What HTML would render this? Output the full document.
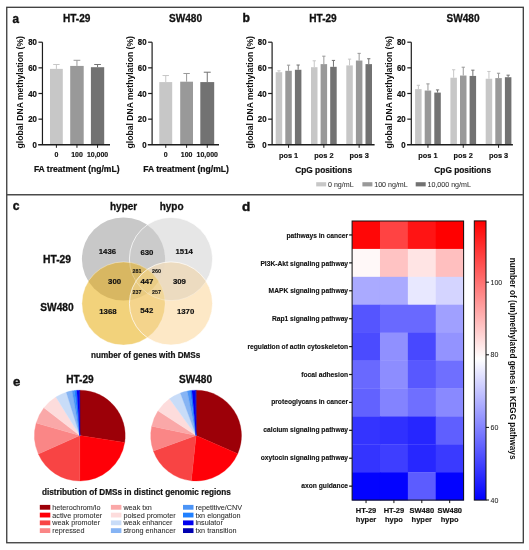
<!DOCTYPE html>
<html><head><meta charset="utf-8"><style>
html,body{margin:0;padding:0;background:#fff;width:529px;height:550px;overflow:hidden}
svg{display:block;filter:blur(0.35px)}
text{font-family:"Liberation Sans",sans-serif}
</style></head><body>
<svg width="529" height="550" viewBox="0 0 529 550">
<rect x="6.75" y="7.3" width="516.55" height="535.45" fill="none" stroke="#3a3a3a" stroke-width="1.3"/>
<line x1="6" y1="194.75" x2="523" y2="194.75" stroke="#4a4a4a" stroke-width="1.4"/>
<text transform="translate(12.6,22.5) scale(0.88,1)" x="0" y="0" font-size="13.3" font-weight="bold" text-anchor="start" fill="#111" stroke="#111" stroke-width="0.428" >a</text>
<text x="76.7" y="22.1" font-size="10.1" font-weight="bold" text-anchor="middle" fill="#111" stroke="#111" stroke-width="0.284" >HT-29</text>
<text x="185.5" y="22.1" font-size="10.1" font-weight="bold" text-anchor="middle" fill="#111" stroke="#111" stroke-width="0.284" >SW480</text>
<rect x="50.0" y="68.876" width="12.799999999999997" height="75.924" fill="#c7c7c7"/>
<line x1="56.4" y1="68.876" x2="56.4" y2="64.51550000000002" stroke="#c7c7c7" stroke-width="1"/>
<line x1="53.2" y1="64.51550000000002" x2="59.599999999999994" y2="64.51550000000002" stroke="#c7c7c7" stroke-width="1"/>
<rect x="70.2" y="65.92625000000001" width="13.5" height="78.87375" fill="#999999"/>
<line x1="76.95" y1="65.92625000000001" x2="76.95" y2="60.28325000000001" stroke="#999999" stroke-width="1"/>
<line x1="73.575" y1="60.28325000000001" x2="80.325" y2="60.28325000000001" stroke="#999999" stroke-width="1"/>
<rect x="90.9" y="67.20875000000001" width="13.299999999999997" height="77.59125" fill="#727272"/>
<line x1="97.55000000000001" y1="67.20875000000001" x2="97.55000000000001" y2="64.51550000000002" stroke="#727272" stroke-width="1"/>
<line x1="94.22500000000001" y1="64.51550000000002" x2="100.87500000000001" y2="64.51550000000002" stroke="#727272" stroke-width="1"/>
<line x1="42.45" y1="42.20000000000002" x2="42.45" y2="144.8" stroke="#1c1c1c" stroke-width="1.2"/>
<line x1="38.150000000000006" y1="144.8" x2="110" y2="144.8" stroke="#1c1c1c" stroke-width="1.4"/>
<line x1="38.45" y1="119.15" x2="42.45" y2="119.15" stroke="#1c1c1c" stroke-width="1.2"/>
<line x1="38.45" y1="93.50000000000001" x2="42.45" y2="93.50000000000001" stroke="#1c1c1c" stroke-width="1.2"/>
<line x1="38.45" y1="67.85000000000001" x2="42.45" y2="67.85000000000001" stroke="#1c1c1c" stroke-width="1.2"/>
<line x1="38.45" y1="42.20000000000002" x2="42.45" y2="42.20000000000002" stroke="#1c1c1c" stroke-width="1.2"/>
<text transform="translate(36.85,147.8) scale(0.92,1)" x="0" y="0" font-size="8.5" font-weight="bold" text-anchor="end" fill="#111" stroke="#111" stroke-width="0.212" >0</text>
<text transform="translate(36.85,122.15) scale(0.92,1)" x="0" y="0" font-size="8.5" font-weight="bold" text-anchor="end" fill="#111" stroke="#111" stroke-width="0.212" >20</text>
<text transform="translate(36.85,96.50000000000001) scale(0.92,1)" x="0" y="0" font-size="8.5" font-weight="bold" text-anchor="end" fill="#111" stroke="#111" stroke-width="0.212" >40</text>
<text transform="translate(36.85,70.85000000000001) scale(0.92,1)" x="0" y="0" font-size="8.5" font-weight="bold" text-anchor="end" fill="#111" stroke="#111" stroke-width="0.212" >60</text>
<text transform="translate(36.85,45.20000000000002) scale(0.92,1)" x="0" y="0" font-size="8.5" font-weight="bold" text-anchor="end" fill="#111" stroke="#111" stroke-width="0.212" >80</text>
<text transform="translate(23.450000000000003,92.30000000000001) rotate(-90)" x="0" y="0" font-size="8.6" font-weight="bold" text-anchor="middle" fill="#111">global DNA methylation (%)</text>
<line x1="56.4" y1="144.8" x2="56.4" y2="147.8" stroke="#1c1c1c" stroke-width="1"/>
<text transform="translate(56.4,157.2) scale(0.93,1)" x="0" y="0" font-size="7.5" font-weight="bold" text-anchor="middle" fill="#111" stroke="#111" stroke-width="0.167" >0</text>
<line x1="76.95" y1="144.8" x2="76.95" y2="147.8" stroke="#1c1c1c" stroke-width="1"/>
<text transform="translate(76.95,157.2) scale(0.93,1)" x="0" y="0" font-size="7.5" font-weight="bold" text-anchor="middle" fill="#111" stroke="#111" stroke-width="0.167" >100</text>
<line x1="97.55" y1="144.8" x2="97.55" y2="147.8" stroke="#1c1c1c" stroke-width="1"/>
<text transform="translate(97.55,157.2) scale(0.93,1)" x="0" y="0" font-size="7.5" font-weight="bold" text-anchor="middle" fill="#111" stroke="#111" stroke-width="0.167" >10,000</text>
<text x="76.7" y="172" font-size="8.56" font-weight="bold" text-anchor="middle" fill="#111" stroke="#111" stroke-width="0.215" >FA treatment (ng/mL)</text>
<rect x="159.3" y="82.08575000000002" width="12.899999999999977" height="62.71424999999999" fill="#c7c7c7"/>
<line x1="165.75" y1="82.08575000000002" x2="165.75" y2="75.54500000000002" stroke="#c7c7c7" stroke-width="1"/>
<line x1="162.525" y1="75.54500000000002" x2="168.975" y2="75.54500000000002" stroke="#c7c7c7" stroke-width="1"/>
<rect x="180.2" y="81.70100000000001" width="12.800000000000011" height="63.099000000000004" fill="#999999"/>
<line x1="186.6" y1="81.70100000000001" x2="186.6" y2="73.49300000000001" stroke="#999999" stroke-width="1"/>
<line x1="183.39999999999998" y1="73.49300000000001" x2="189.8" y2="73.49300000000001" stroke="#999999" stroke-width="1"/>
<rect x="200.3" y="82.08575000000002" width="13.899999999999977" height="62.71424999999999" fill="#727272"/>
<line x1="207.25" y1="82.08575000000002" x2="207.25" y2="72.21050000000001" stroke="#727272" stroke-width="1"/>
<line x1="203.775" y1="72.21050000000001" x2="210.725" y2="72.21050000000001" stroke="#727272" stroke-width="1"/>
<line x1="152.1" y1="42.20000000000002" x2="152.1" y2="144.8" stroke="#1c1c1c" stroke-width="1.2"/>
<line x1="147.79999999999998" y1="144.8" x2="219" y2="144.8" stroke="#1c1c1c" stroke-width="1.4"/>
<line x1="148.1" y1="119.15" x2="152.1" y2="119.15" stroke="#1c1c1c" stroke-width="1.2"/>
<line x1="148.1" y1="93.50000000000001" x2="152.1" y2="93.50000000000001" stroke="#1c1c1c" stroke-width="1.2"/>
<line x1="148.1" y1="67.85000000000001" x2="152.1" y2="67.85000000000001" stroke="#1c1c1c" stroke-width="1.2"/>
<line x1="148.1" y1="42.20000000000002" x2="152.1" y2="42.20000000000002" stroke="#1c1c1c" stroke-width="1.2"/>
<text transform="translate(146.5,147.8) scale(0.92,1)" x="0" y="0" font-size="8.5" font-weight="bold" text-anchor="end" fill="#111" stroke="#111" stroke-width="0.212" >0</text>
<text transform="translate(146.5,122.15) scale(0.92,1)" x="0" y="0" font-size="8.5" font-weight="bold" text-anchor="end" fill="#111" stroke="#111" stroke-width="0.212" >20</text>
<text transform="translate(146.5,96.50000000000001) scale(0.92,1)" x="0" y="0" font-size="8.5" font-weight="bold" text-anchor="end" fill="#111" stroke="#111" stroke-width="0.212" >40</text>
<text transform="translate(146.5,70.85000000000001) scale(0.92,1)" x="0" y="0" font-size="8.5" font-weight="bold" text-anchor="end" fill="#111" stroke="#111" stroke-width="0.212" >60</text>
<text transform="translate(146.5,45.20000000000002) scale(0.92,1)" x="0" y="0" font-size="8.5" font-weight="bold" text-anchor="end" fill="#111" stroke="#111" stroke-width="0.212" >80</text>
<text transform="translate(133.1,92.30000000000001) rotate(-90)" x="0" y="0" font-size="8.6" font-weight="bold" text-anchor="middle" fill="#111">global DNA methylation (%)</text>
<line x1="165.75" y1="144.8" x2="165.75" y2="147.8" stroke="#1c1c1c" stroke-width="1"/>
<text transform="translate(165.75,157.2) scale(0.93,1)" x="0" y="0" font-size="7.5" font-weight="bold" text-anchor="middle" fill="#111" stroke="#111" stroke-width="0.167" >0</text>
<line x1="186.6" y1="144.8" x2="186.6" y2="147.8" stroke="#1c1c1c" stroke-width="1"/>
<text transform="translate(186.6,157.2) scale(0.93,1)" x="0" y="0" font-size="7.5" font-weight="bold" text-anchor="middle" fill="#111" stroke="#111" stroke-width="0.167" >100</text>
<line x1="207.25" y1="144.8" x2="207.25" y2="147.8" stroke="#1c1c1c" stroke-width="1"/>
<text transform="translate(207.25,157.2) scale(0.93,1)" x="0" y="0" font-size="7.5" font-weight="bold" text-anchor="middle" fill="#111" stroke="#111" stroke-width="0.167" >10,000</text>
<text x="186" y="172" font-size="8.56" font-weight="bold" text-anchor="middle" fill="#111" stroke="#111" stroke-width="0.215" >FA treatment (ng/mL)</text>
<text transform="translate(242.4,22.0) scale(0.92,1)" x="0" y="0" font-size="13.2" font-weight="bold" text-anchor="start" fill="#111" stroke="#111" stroke-width="0.424" >b</text>
<text x="323" y="22.1" font-size="10.1" font-weight="bold" text-anchor="middle" fill="#111" stroke="#111" stroke-width="0.284" >HT-29</text>
<text x="463" y="22.1" font-size="10.1" font-weight="bold" text-anchor="middle" fill="#111" stroke="#111" stroke-width="0.284" >SW480</text>
<rect x="275.70000000000005" y="72.21050000000001" width="6.5" height="72.5895" fill="#c7c7c7"/>
<line x1="278.95000000000005" y1="72.21050000000001" x2="278.95000000000005" y2="70.79975" stroke="#c7c7c7" stroke-width="1"/>
<line x1="277.32500000000005" y1="70.79975" x2="280.57500000000005" y2="70.79975" stroke="#c7c7c7" stroke-width="1"/>
<rect x="285.30000000000007" y="70.79975" width="6.5" height="74.00025000000001" fill="#999999"/>
<line x1="288.55000000000007" y1="70.79975" x2="288.55000000000007" y2="65.15675000000002" stroke="#999999" stroke-width="1"/>
<line x1="286.92500000000007" y1="65.15675000000002" x2="290.17500000000007" y2="65.15675000000002" stroke="#999999" stroke-width="1"/>
<rect x="294.90000000000003" y="69.77375" width="6.5" height="75.02625" fill="#727272"/>
<line x1="298.15000000000003" y1="69.77375" x2="298.15000000000003" y2="65.02850000000001" stroke="#727272" stroke-width="1"/>
<line x1="296.52500000000003" y1="65.02850000000001" x2="299.77500000000003" y2="65.02850000000001" stroke="#727272" stroke-width="1"/>
<rect x="311.0" y="67.20875000000001" width="6.5" height="77.59125" fill="#c7c7c7"/>
<line x1="314.25" y1="67.20875000000001" x2="314.25" y2="60.796250000000015" stroke="#c7c7c7" stroke-width="1"/>
<line x1="312.625" y1="60.796250000000015" x2="315.875" y2="60.796250000000015" stroke="#c7c7c7" stroke-width="1"/>
<rect x="320.6" y="64.13075000000002" width="6.5" height="80.66924999999999" fill="#999999"/>
<line x1="323.85" y1="64.13075000000002" x2="323.85" y2="56.179250000000025" stroke="#999999" stroke-width="1"/>
<line x1="322.225" y1="56.179250000000025" x2="325.475" y2="56.179250000000025" stroke="#999999" stroke-width="1"/>
<rect x="330.2" y="66.82400000000001" width="6.5" height="77.976" fill="#727272"/>
<line x1="333.45" y1="66.82400000000001" x2="333.45" y2="60.41150000000002" stroke="#727272" stroke-width="1"/>
<line x1="331.825" y1="60.41150000000002" x2="335.075" y2="60.41150000000002" stroke="#727272" stroke-width="1"/>
<rect x="346.3" y="65.41325000000002" width="6.5" height="79.38674999999999" fill="#c7c7c7"/>
<line x1="349.55" y1="65.41325000000002" x2="349.55" y2="59.12900000000002" stroke="#c7c7c7" stroke-width="1"/>
<line x1="347.925" y1="59.12900000000002" x2="351.175" y2="59.12900000000002" stroke="#c7c7c7" stroke-width="1"/>
<rect x="355.90000000000003" y="60.53975000000001" width="6.5" height="84.26025" fill="#999999"/>
<line x1="359.15000000000003" y1="60.53975000000001" x2="359.15000000000003" y2="53.35775000000001" stroke="#999999" stroke-width="1"/>
<line x1="357.52500000000003" y1="53.35775000000001" x2="360.77500000000003" y2="53.35775000000001" stroke="#999999" stroke-width="1"/>
<rect x="365.5" y="64.13075000000002" width="6.5" height="80.66924999999999" fill="#727272"/>
<line x1="368.75" y1="64.13075000000002" x2="368.75" y2="58.74425000000002" stroke="#727272" stroke-width="1"/>
<line x1="367.125" y1="58.74425000000002" x2="370.375" y2="58.74425000000002" stroke="#727272" stroke-width="1"/>
<line x1="272.1" y1="42.20000000000002" x2="272.1" y2="144.8" stroke="#1c1c1c" stroke-width="1.2"/>
<line x1="267.8" y1="144.8" x2="374.6" y2="144.8" stroke="#1c1c1c" stroke-width="1.4"/>
<line x1="268.1" y1="119.15" x2="272.1" y2="119.15" stroke="#1c1c1c" stroke-width="1.2"/>
<line x1="268.1" y1="93.50000000000001" x2="272.1" y2="93.50000000000001" stroke="#1c1c1c" stroke-width="1.2"/>
<line x1="268.1" y1="67.85000000000001" x2="272.1" y2="67.85000000000001" stroke="#1c1c1c" stroke-width="1.2"/>
<line x1="268.1" y1="42.20000000000002" x2="272.1" y2="42.20000000000002" stroke="#1c1c1c" stroke-width="1.2"/>
<text transform="translate(266.5,147.8) scale(0.92,1)" x="0" y="0" font-size="8.5" font-weight="bold" text-anchor="end" fill="#111" stroke="#111" stroke-width="0.212" >0</text>
<text transform="translate(266.5,122.15) scale(0.92,1)" x="0" y="0" font-size="8.5" font-weight="bold" text-anchor="end" fill="#111" stroke="#111" stroke-width="0.212" >20</text>
<text transform="translate(266.5,96.50000000000001) scale(0.92,1)" x="0" y="0" font-size="8.5" font-weight="bold" text-anchor="end" fill="#111" stroke="#111" stroke-width="0.212" >40</text>
<text transform="translate(266.5,70.85000000000001) scale(0.92,1)" x="0" y="0" font-size="8.5" font-weight="bold" text-anchor="end" fill="#111" stroke="#111" stroke-width="0.212" >60</text>
<text transform="translate(266.5,45.20000000000002) scale(0.92,1)" x="0" y="0" font-size="8.5" font-weight="bold" text-anchor="end" fill="#111" stroke="#111" stroke-width="0.212" >80</text>
<text transform="translate(253.10000000000002,92.30000000000001) rotate(-90)" x="0" y="0" font-size="8.6" font-weight="bold" text-anchor="middle" fill="#111">global DNA methylation (%)</text>
<line x1="288.55000000000007" y1="144.8" x2="288.55000000000007" y2="147.8" stroke="#1c1c1c" stroke-width="1"/>
<text x="288.55000000000007" y="157.7" font-size="7.4" font-weight="bold" text-anchor="middle" fill="#111" stroke="#111" stroke-width="0.163" >pos 1</text>
<line x1="323.85" y1="144.8" x2="323.85" y2="147.8" stroke="#1c1c1c" stroke-width="1"/>
<text x="323.85" y="157.7" font-size="7.4" font-weight="bold" text-anchor="middle" fill="#111" stroke="#111" stroke-width="0.163" >pos 2</text>
<line x1="359.15000000000003" y1="144.8" x2="359.15000000000003" y2="147.8" stroke="#1c1c1c" stroke-width="1"/>
<text x="359.15000000000003" y="157.7" font-size="7.4" font-weight="bold" text-anchor="middle" fill="#111" stroke="#111" stroke-width="0.163" >pos 3</text>
<text x="323.65" y="173.3" font-size="8.3" font-weight="bold" text-anchor="middle" fill="#111" stroke="#111" stroke-width="0.203" >CpG positions</text>
<rect x="415.1" y="89.13950000000001" width="6.5" height="55.6605" fill="#c7c7c7"/>
<line x1="418.35" y1="89.13950000000001" x2="418.35" y2="85.29200000000002" stroke="#c7c7c7" stroke-width="1"/>
<line x1="416.725" y1="85.29200000000002" x2="419.975" y2="85.29200000000002" stroke="#c7c7c7" stroke-width="1"/>
<rect x="424.70000000000005" y="90.55025000000002" width="6.5" height="54.24974999999999" fill="#999999"/>
<line x1="427.95000000000005" y1="90.55025000000002" x2="427.95000000000005" y2="83.88125000000002" stroke="#999999" stroke-width="1"/>
<line x1="426.32500000000005" y1="83.88125000000002" x2="429.57500000000005" y2="83.88125000000002" stroke="#999999" stroke-width="1"/>
<rect x="434.3" y="92.60225000000001" width="6.5" height="52.19775" fill="#727272"/>
<line x1="437.55" y1="92.60225000000001" x2="437.55" y2="89.90900000000002" stroke="#727272" stroke-width="1"/>
<line x1="435.925" y1="89.90900000000002" x2="439.175" y2="89.90900000000002" stroke="#727272" stroke-width="1"/>
<rect x="450.40000000000003" y="77.72525000000002" width="6.5" height="67.07475" fill="#c7c7c7"/>
<line x1="453.65000000000003" y1="77.72525000000002" x2="453.65000000000003" y2="69.77375" stroke="#c7c7c7" stroke-width="1"/>
<line x1="452.02500000000003" y1="69.77375" x2="455.27500000000003" y2="69.77375" stroke="#c7c7c7" stroke-width="1"/>
<rect x="460.00000000000006" y="75.54500000000002" width="6.5" height="69.255" fill="#999999"/>
<line x1="463.25000000000006" y1="75.54500000000002" x2="463.25000000000006" y2="67.20875000000001" stroke="#999999" stroke-width="1"/>
<line x1="461.62500000000006" y1="67.20875000000001" x2="464.87500000000006" y2="67.20875000000001" stroke="#999999" stroke-width="1"/>
<rect x="469.6" y="75.92975000000001" width="6.5" height="68.87025" fill="#727272"/>
<line x1="472.85" y1="75.92975000000001" x2="472.85" y2="70.1585" stroke="#727272" stroke-width="1"/>
<line x1="471.225" y1="70.1585" x2="474.475" y2="70.1585" stroke="#727272" stroke-width="1"/>
<rect x="485.7" y="78.75125000000001" width="6.5" height="66.04875" fill="#c7c7c7"/>
<line x1="488.95" y1="78.75125000000001" x2="488.95" y2="71.441" stroke="#c7c7c7" stroke-width="1"/>
<line x1="487.325" y1="71.441" x2="490.575" y2="71.441" stroke="#c7c7c7" stroke-width="1"/>
<rect x="495.3" y="78.11000000000001" width="6.5" height="66.69" fill="#999999"/>
<line x1="498.55" y1="78.11000000000001" x2="498.55" y2="73.23650000000002" stroke="#999999" stroke-width="1"/>
<line x1="496.925" y1="73.23650000000002" x2="500.175" y2="73.23650000000002" stroke="#999999" stroke-width="1"/>
<rect x="504.9" y="77.21225000000001" width="6.5" height="67.58775" fill="#727272"/>
<line x1="508.15" y1="77.21225000000001" x2="508.15" y2="75.16025000000002" stroke="#727272" stroke-width="1"/>
<line x1="506.525" y1="75.16025000000002" x2="509.775" y2="75.16025000000002" stroke="#727272" stroke-width="1"/>
<line x1="411.3" y1="42.20000000000002" x2="411.3" y2="144.8" stroke="#1c1c1c" stroke-width="1.2"/>
<line x1="407.0" y1="144.8" x2="512.9" y2="144.8" stroke="#1c1c1c" stroke-width="1.4"/>
<line x1="407.3" y1="119.15" x2="411.3" y2="119.15" stroke="#1c1c1c" stroke-width="1.2"/>
<line x1="407.3" y1="93.50000000000001" x2="411.3" y2="93.50000000000001" stroke="#1c1c1c" stroke-width="1.2"/>
<line x1="407.3" y1="67.85000000000001" x2="411.3" y2="67.85000000000001" stroke="#1c1c1c" stroke-width="1.2"/>
<line x1="407.3" y1="42.20000000000002" x2="411.3" y2="42.20000000000002" stroke="#1c1c1c" stroke-width="1.2"/>
<text transform="translate(405.7,147.8) scale(0.92,1)" x="0" y="0" font-size="8.5" font-weight="bold" text-anchor="end" fill="#111" stroke="#111" stroke-width="0.212" >0</text>
<text transform="translate(405.7,122.15) scale(0.92,1)" x="0" y="0" font-size="8.5" font-weight="bold" text-anchor="end" fill="#111" stroke="#111" stroke-width="0.212" >20</text>
<text transform="translate(405.7,96.50000000000001) scale(0.92,1)" x="0" y="0" font-size="8.5" font-weight="bold" text-anchor="end" fill="#111" stroke="#111" stroke-width="0.212" >40</text>
<text transform="translate(405.7,70.85000000000001) scale(0.92,1)" x="0" y="0" font-size="8.5" font-weight="bold" text-anchor="end" fill="#111" stroke="#111" stroke-width="0.212" >60</text>
<text transform="translate(405.7,45.20000000000002) scale(0.92,1)" x="0" y="0" font-size="8.5" font-weight="bold" text-anchor="end" fill="#111" stroke="#111" stroke-width="0.212" >80</text>
<text transform="translate(392.3,92.30000000000001) rotate(-90)" x="0" y="0" font-size="8.6" font-weight="bold" text-anchor="middle" fill="#111">global DNA methylation (%)</text>
<line x1="427.95000000000005" y1="144.8" x2="427.95000000000005" y2="147.8" stroke="#1c1c1c" stroke-width="1"/>
<text x="427.95000000000005" y="157.7" font-size="7.4" font-weight="bold" text-anchor="middle" fill="#111" stroke="#111" stroke-width="0.163" >pos 1</text>
<line x1="463.25000000000006" y1="144.8" x2="463.25000000000006" y2="147.8" stroke="#1c1c1c" stroke-width="1"/>
<text x="463.25000000000006" y="157.7" font-size="7.4" font-weight="bold" text-anchor="middle" fill="#111" stroke="#111" stroke-width="0.163" >pos 2</text>
<line x1="498.55" y1="144.8" x2="498.55" y2="147.8" stroke="#1c1c1c" stroke-width="1"/>
<text x="498.55" y="157.7" font-size="7.4" font-weight="bold" text-anchor="middle" fill="#111" stroke="#111" stroke-width="0.163" >pos 3</text>
<text x="462.7" y="173.3" font-size="8.3" font-weight="bold" text-anchor="middle" fill="#111" stroke="#111" stroke-width="0.203" >CpG positions</text>
<rect x="316.2" y="182.2" width="10" height="4.2" fill="#c7c7c7"/>
<text x="328.0" y="187.1" font-size="7.1" font-weight="normal" text-anchor="start" fill="#333" stroke="#333" stroke-width="0.060" >0 ng/mL</text>
<rect x="362.4" y="182.2" width="10" height="4.2" fill="#999999"/>
<text x="374.2" y="187.1" font-size="7.1" font-weight="normal" text-anchor="start" fill="#333" stroke="#333" stroke-width="0.060" >100 ng/mL</text>
<rect x="415.7" y="182.2" width="10" height="4.2" fill="#727272"/>
<text x="427.5" y="187.1" font-size="7.1" font-weight="normal" text-anchor="start" fill="#333" stroke="#333" stroke-width="0.060" >10,000 ng/mL</text>
<text x="12.8" y="210.1" font-size="12.2" font-weight="bold" text-anchor="start" fill="#111" stroke="#111" stroke-width="0.379" >c</text>
<text x="123.6" y="210.0" font-size="10.0" font-weight="bold" text-anchor="middle" fill="#111" stroke="#111" stroke-width="0.280" >hyper</text>
<text x="171.6" y="210.0" font-size="10.0" font-weight="bold" text-anchor="middle" fill="#111" stroke="#111" stroke-width="0.280" >hypo</text>
<text x="57" y="263.0" font-size="10.3" font-weight="bold" text-anchor="middle" fill="#111" stroke="#111" stroke-width="0.293" >HT-29</text>
<text x="57" y="310.6" font-size="10.2" font-weight="bold" text-anchor="middle" fill="#111" stroke="#111" stroke-width="0.289" >SW480</text>
<defs><clipPath id="cTL"><circle cx="123.5" cy="259" r="41.6"/></clipPath><clipPath id="cTR"><circle cx="171" cy="259" r="41.6"/></clipPath><clipPath id="cBL"><circle cx="123.5" cy="303.5" r="41.6"/></clipPath><clipPath id="cBR"><circle cx="171" cy="303.5" r="41.6"/></clipPath></defs>
<circle cx="123.5" cy="259" r="41.6" fill="#c8c8c8"/>
<circle cx="171" cy="259" r="41.6" fill="#e6e6e6"/>
<circle cx="123.5" cy="303.5" r="41.6" fill="#f2d27b"/>
<circle cx="171" cy="303.5" r="41.6" fill="#fde8c6"/>
<g clip-path="url(#cTL)"><circle cx="171" cy="259" r="41.6" fill="#cbcbcb"/></g>
<g clip-path="url(#cTL)"><circle cx="123.5" cy="303.5" r="41.6" fill="#d8b762"/></g>
<g clip-path="url(#cTR)"><circle cx="171" cy="303.5" r="41.6" fill="#ecdbc0"/></g>
<g clip-path="url(#cBL)"><circle cx="171" cy="303.5" r="41.6" fill="#f4d48c"/></g>
<g clip-path="url(#cTL)"><g clip-path="url(#cTR)"><circle cx="123.5" cy="303.5" r="41.6" fill="#dabb6a"/></g></g>
<g clip-path="url(#cTL)"><g clip-path="url(#cTR)"><circle cx="171" cy="303.5" r="41.6" fill="#e9d9c0"/></g></g>
<g clip-path="url(#cTL)"><g clip-path="url(#cBL)"><circle cx="171" cy="303.5" r="41.6" fill="#e8ca80"/></g></g>
<g clip-path="url(#cTR)"><g clip-path="url(#cBL)"><circle cx="171" cy="303.5" r="41.6" fill="#f0d69a"/></g></g>
<g clip-path="url(#cTL)"><g clip-path="url(#cTR)"><g clip-path="url(#cBL)"><circle cx="171" cy="303.5" r="41.6" fill="#eacd85"/></g></g></g>
<defs><mask id="mOutB"><rect x="0" y="0" width="529" height="550" fill="#fff"/><circle cx="123.5" cy="303.5" r="41.6" fill="#000"/><circle cx="171" cy="303.5" r="41.6" fill="#000"/></mask><mask id="mInB"><circle cx="123.5" cy="303.5" r="41.6" fill="#fff"/><circle cx="171" cy="303.5" r="41.6" fill="#fff"/></mask><mask id="mOutBR"><rect x="0" y="0" width="529" height="550" fill="#fff"/><circle cx="171" cy="303.5" r="41.6" fill="#000"/></mask><mask id="mInBR"><circle cx="171" cy="303.5" r="41.6" fill="#fff"/></mask></defs>
<g mask="url(#mOutB)"><circle cx="171" cy="259" r="41.6" fill="none" stroke="#fff" stroke-opacity="0.75" stroke-width="0.9"/></g>
<g mask="url(#mInB)"><circle cx="171" cy="259" r="41.6" fill="none" stroke="#fff" stroke-opacity="0.3" stroke-width="0.9"/></g>
<g mask="url(#mOutBR)"><circle cx="123.5" cy="303.5" r="41.6" fill="none" stroke="#fff" stroke-opacity="0.4" stroke-width="0.9"/></g>
<g mask="url(#mInBR)"><circle cx="123.5" cy="303.5" r="41.6" fill="none" stroke="#fff" stroke-opacity="0.2" stroke-width="0.9"/></g>
<g><circle cx="171" cy="303.5" r="41.6" fill="none" stroke="#fff" stroke-opacity="0.75" stroke-width="0.9"/></g>
<text x="107.4" y="253.9" font-size="7.8" font-weight="bold" text-anchor="middle" fill="#111" stroke="#111" stroke-width="0.181" >1436</text>
<text x="146.9" y="255.0" font-size="7.8" font-weight="bold" text-anchor="middle" fill="#111" stroke="#111" stroke-width="0.181" >630</text>
<text x="184.2" y="253.9" font-size="7.8" font-weight="bold" text-anchor="middle" fill="#111" stroke="#111" stroke-width="0.181" >1514</text>
<text x="114.6" y="284.0" font-size="7.8" font-weight="bold" text-anchor="middle" fill="#111" stroke="#111" stroke-width="0.181" >300</text>
<text x="146.9" y="284.0" font-size="7.8" font-weight="bold" text-anchor="middle" fill="#111" stroke="#111" stroke-width="0.181" >447</text>
<text x="179.4" y="284.0" font-size="7.8" font-weight="bold" text-anchor="middle" fill="#111" stroke="#111" stroke-width="0.181" >309</text>
<text x="107.9" y="314.40000000000003" font-size="7.8" font-weight="bold" text-anchor="middle" fill="#111" stroke="#111" stroke-width="0.181" >1368</text>
<text x="146.8" y="313.2" font-size="7.8" font-weight="bold" text-anchor="middle" fill="#111" stroke="#111" stroke-width="0.181" >542</text>
<text x="185.6" y="314.40000000000003" font-size="7.8" font-weight="bold" text-anchor="middle" fill="#111" stroke="#111" stroke-width="0.181" >1370</text>
<text x="136.9" y="273.15" font-size="5.4" font-weight="bold" text-anchor="middle" fill="#111" stroke="#111" stroke-width="0.073" >281</text>
<text x="156.6" y="273.15" font-size="5.4" font-weight="bold" text-anchor="middle" fill="#111" stroke="#111" stroke-width="0.073" >260</text>
<text x="136.9" y="294.05" font-size="5.4" font-weight="bold" text-anchor="middle" fill="#111" stroke="#111" stroke-width="0.073" >237</text>
<text x="156.6" y="294.05" font-size="5.4" font-weight="bold" text-anchor="middle" fill="#111" stroke="#111" stroke-width="0.073" >257</text>
<text x="145.7" y="358.0" font-size="8.16" font-weight="bold" text-anchor="middle" fill="#111" stroke="#111" stroke-width="0.197" >number of genes with DMSs</text>
<text x="242.1" y="210.6" font-size="13.5" font-weight="bold" text-anchor="start" fill="#111" stroke="#111" stroke-width="0.437" >d</text>
<rect x="352.1" y="221.0" width="28.18" height="28.21" fill="#ff0707"/>
<rect x="379.98" y="221.0" width="28.18" height="28.21" fill="#ff4343"/>
<rect x="407.86" y="221.0" width="28.18" height="28.21" fill="#ff1414"/>
<rect x="435.74" y="221.0" width="28.18" height="28.21" fill="#ff0000"/>
<rect x="352.1" y="248.91" width="28.18" height="28.21" fill="#fff8f8"/>
<rect x="379.98" y="248.91" width="28.18" height="28.21" fill="#ffc3c3"/>
<rect x="407.86" y="248.91" width="28.18" height="28.21" fill="#ffe4e4"/>
<rect x="435.74" y="248.91" width="28.18" height="28.21" fill="#ffbfbf"/>
<rect x="352.1" y="276.82" width="28.18" height="28.21" fill="#aaaaff"/>
<rect x="379.98" y="276.82" width="28.18" height="28.21" fill="#aaaaff"/>
<rect x="407.86" y="276.82" width="28.18" height="28.21" fill="#e8e8ff"/>
<rect x="435.74" y="276.82" width="28.18" height="28.21" fill="#d4d4ff"/>
<rect x="352.1" y="304.73" width="28.18" height="28.21" fill="#5555ff"/>
<rect x="379.98" y="304.73" width="28.18" height="28.21" fill="#6969ff"/>
<rect x="407.86" y="304.73" width="28.18" height="28.21" fill="#6969ff"/>
<rect x="435.74" y="304.73" width="28.18" height="28.21" fill="#a0a0ff"/>
<rect x="352.1" y="332.64" width="28.18" height="28.21" fill="#4b4bff"/>
<rect x="379.98" y="332.64" width="28.18" height="28.21" fill="#9090ff"/>
<rect x="407.86" y="332.64" width="28.18" height="28.21" fill="#4848ff"/>
<rect x="435.74" y="332.64" width="28.18" height="28.21" fill="#9393ff"/>
<rect x="352.1" y="360.55" width="28.18" height="28.21" fill="#6969ff"/>
<rect x="379.98" y="360.55" width="28.18" height="28.21" fill="#8d8dff"/>
<rect x="407.86" y="360.55" width="28.18" height="28.21" fill="#5858ff"/>
<rect x="435.74" y="360.55" width="28.18" height="28.21" fill="#6f6fff"/>
<rect x="352.1" y="388.46000000000004" width="28.18" height="28.21" fill="#6262ff"/>
<rect x="379.98" y="388.46000000000004" width="28.18" height="28.21" fill="#8383ff"/>
<rect x="407.86" y="388.46000000000004" width="28.18" height="28.21" fill="#6f6fff"/>
<rect x="435.74" y="388.46000000000004" width="28.18" height="28.21" fill="#8989ff"/>
<rect x="352.1" y="416.37" width="28.18" height="28.21" fill="#3434ff"/>
<rect x="379.98" y="416.37" width="28.18" height="28.21" fill="#3030ff"/>
<rect x="407.86" y="416.37" width="28.18" height="28.21" fill="#2626ff"/>
<rect x="435.74" y="416.37" width="28.18" height="28.21" fill="#5f5fff"/>
<rect x="352.1" y="444.28" width="28.18" height="28.21" fill="#3434ff"/>
<rect x="379.98" y="444.28" width="28.18" height="28.21" fill="#3e3eff"/>
<rect x="407.86" y="444.28" width="28.18" height="28.21" fill="#2727ff"/>
<rect x="435.74" y="444.28" width="28.18" height="28.21" fill="#3a3aff"/>
<rect x="352.1" y="472.19" width="28.18" height="28.21" fill="#0303ff"/>
<rect x="379.98" y="472.19" width="28.18" height="28.21" fill="#0303ff"/>
<rect x="407.86" y="472.19" width="28.18" height="28.21" fill="#5c5cff"/>
<rect x="435.74" y="472.19" width="28.18" height="28.21" fill="#0303ff"/>
<rect x="352.1" y="221" width="111.52" height="279.1" fill="none" stroke="#111" stroke-width="1"/>
<line x1="349.1" y1="234.955" x2="352.1" y2="234.955" stroke="#111" stroke-width="1.2"/>
<text x="348.1" y="237.96" font-size="6.7" font-weight="bold" text-anchor="end" fill="#111" stroke="#111" stroke-width="0.131" >pathways in cancer</text>
<line x1="349.1" y1="262.865" x2="352.1" y2="262.865" stroke="#111" stroke-width="1.2"/>
<text x="348.1" y="265.7" font-size="6.7" font-weight="bold" text-anchor="end" fill="#111" stroke="#111" stroke-width="0.131" >PI3K-Akt signaling pathway</text>
<line x1="349.1" y1="290.775" x2="352.1" y2="290.775" stroke="#111" stroke-width="1.2"/>
<text x="348.1" y="293.44" font-size="6.7" font-weight="bold" text-anchor="end" fill="#111" stroke="#111" stroke-width="0.131" >MAPK signaling pathway</text>
<line x1="349.1" y1="318.685" x2="352.1" y2="318.685" stroke="#111" stroke-width="1.2"/>
<text x="348.1" y="321.18" font-size="6.7" font-weight="bold" text-anchor="end" fill="#111" stroke="#111" stroke-width="0.131" >Rap1 signaling pathway</text>
<line x1="349.1" y1="346.595" x2="352.1" y2="346.595" stroke="#111" stroke-width="1.2"/>
<text x="348.1" y="348.92" font-size="6.7" font-weight="bold" text-anchor="end" fill="#111" stroke="#111" stroke-width="0.131" >regulation of actin cytoskeleton</text>
<line x1="349.1" y1="374.505" x2="352.1" y2="374.505" stroke="#111" stroke-width="1.2"/>
<text x="348.1" y="376.65999999999997" font-size="6.7" font-weight="bold" text-anchor="end" fill="#111" stroke="#111" stroke-width="0.131" >focal adhesion</text>
<line x1="349.1" y1="402.41499999999996" x2="352.1" y2="402.41499999999996" stroke="#111" stroke-width="1.2"/>
<text x="348.1" y="404.4" font-size="6.7" font-weight="bold" text-anchor="end" fill="#111" stroke="#111" stroke-width="0.131" >proteoglycans in cancer</text>
<line x1="349.1" y1="430.325" x2="352.1" y2="430.325" stroke="#111" stroke-width="1.2"/>
<text x="348.1" y="432.14" font-size="6.7" font-weight="bold" text-anchor="end" fill="#111" stroke="#111" stroke-width="0.131" >calcium signaling pathway</text>
<line x1="349.1" y1="458.235" x2="352.1" y2="458.235" stroke="#111" stroke-width="1.2"/>
<text x="348.1" y="459.88" font-size="6.7" font-weight="bold" text-anchor="end" fill="#111" stroke="#111" stroke-width="0.131" >oxytocin signaling pathway</text>
<line x1="349.1" y1="486.145" x2="352.1" y2="486.145" stroke="#111" stroke-width="1.2"/>
<text x="348.1" y="487.62" font-size="6.7" font-weight="bold" text-anchor="end" fill="#111" stroke="#111" stroke-width="0.131" >axon guidance</text>
<line x1="366.04" y1="500.1" x2="366.04" y2="503.1" stroke="#111" stroke-width="1"/>
<text x="366.04" y="512.8" font-size="7.5" font-weight="bold" text-anchor="middle" fill="#111" stroke="#111" stroke-width="0.167" >HT-29</text>
<text x="366.04" y="521.6" font-size="7.5" font-weight="bold" text-anchor="middle" fill="#111" stroke="#111" stroke-width="0.167" >hyper</text>
<line x1="393.92" y1="500.1" x2="393.92" y2="503.1" stroke="#111" stroke-width="1"/>
<text x="393.92" y="512.8" font-size="7.5" font-weight="bold" text-anchor="middle" fill="#111" stroke="#111" stroke-width="0.167" >HT-29</text>
<text x="393.92" y="521.6" font-size="7.5" font-weight="bold" text-anchor="middle" fill="#111" stroke="#111" stroke-width="0.167" >hypo</text>
<line x1="421.8" y1="500.1" x2="421.8" y2="503.1" stroke="#111" stroke-width="1"/>
<text x="421.8" y="512.8" font-size="7.5" font-weight="bold" text-anchor="middle" fill="#111" stroke="#111" stroke-width="0.167" >SW480</text>
<text x="421.8" y="521.6" font-size="7.5" font-weight="bold" text-anchor="middle" fill="#111" stroke="#111" stroke-width="0.167" >hyper</text>
<line x1="449.68" y1="500.1" x2="449.68" y2="503.1" stroke="#111" stroke-width="1"/>
<text x="449.68" y="512.8" font-size="7.5" font-weight="bold" text-anchor="middle" fill="#111" stroke="#111" stroke-width="0.167" >SW480</text>
<text x="449.68" y="521.6" font-size="7.5" font-weight="bold" text-anchor="middle" fill="#111" stroke="#111" stroke-width="0.167" >hypo</text>
<defs><linearGradient id="cb" x1="0" y1="1" x2="0" y2="0"><stop offset="0" stop-color="#0000ff"/><stop offset="0.506" stop-color="#ffffff"/><stop offset="1" stop-color="#ff0000"/></linearGradient></defs>
<rect x="474.3" y="220.9" width="11.7" height="279.2" fill="url(#cb)" stroke="#111" stroke-width="1"/>
<line x1="486" y1="500.0" x2="489" y2="500.0" stroke="#111" stroke-width="1"/>
<text x="490.5" y="502.5" font-size="7" font-weight="normal" text-anchor="start" fill="#222" stroke="#222" stroke-width="0.058" >40</text>
<line x1="486" y1="427.4" x2="489" y2="427.4" stroke="#111" stroke-width="1"/>
<text x="490.5" y="429.9" font-size="7" font-weight="normal" text-anchor="start" fill="#222" stroke="#222" stroke-width="0.058" >60</text>
<line x1="486" y1="354.8" x2="489" y2="354.8" stroke="#111" stroke-width="1"/>
<text x="490.5" y="357.3" font-size="7" font-weight="normal" text-anchor="start" fill="#222" stroke="#222" stroke-width="0.058" >80</text>
<line x1="486" y1="282.2" x2="489" y2="282.2" stroke="#111" stroke-width="1"/>
<text x="490.5" y="284.7" font-size="7" font-weight="normal" text-anchor="start" fill="#222" stroke="#222" stroke-width="0.058" >100</text>
<text transform="translate(510.3,358.6) rotate(90)" x="0" y="0" font-size="8.17" font-weight="bold" text-anchor="middle" fill="#111">number of (un)methylated genes in KEGG pathways</text>
<text x="13.0" y="386.1" font-size="13.2" font-weight="bold" text-anchor="start" fill="#111" stroke="#111" stroke-width="0.424" >e</text>
<text x="79.9" y="382.5" font-size="10.1" font-weight="bold" text-anchor="middle" fill="#111" stroke="#111" stroke-width="0.284" >HT-29</text>
<text x="195.5" y="382.5" font-size="10.1" font-weight="bold" text-anchor="middle" fill="#111" stroke="#111" stroke-width="0.284" >SW480</text>
<path d="M79.8,435.6 L79.80,390.20 A45.4,45.4 0 0 1 124.69,442.39 Z" fill="#9c0008" stroke="#9c0008" stroke-width="0.3" stroke-linejoin="round"/>
<path d="M79.8,435.6 L124.69,442.39 A45.4,45.4 0 0 1 79.80,481.00 Z" fill="#ff0008" stroke="#ff0008" stroke-width="0.3" stroke-linejoin="round"/>
<path d="M79.8,435.6 L79.80,481.00 A45.4,45.4 0 0 1 38.33,454.07 Z" fill="#f84444" stroke="#f84444" stroke-width="0.3" stroke-linejoin="round"/>
<path d="M79.8,435.6 L38.33,454.07 A45.4,45.4 0 0 1 36.16,423.09 Z" fill="#fa8686" stroke="#fa8686" stroke-width="0.3" stroke-linejoin="round"/>
<path d="M79.8,435.6 L36.16,423.09 A45.4,45.4 0 0 1 43.93,407.77 Z" fill="#faa8a8" stroke="#faa8a8" stroke-width="0.3" stroke-linejoin="round"/>
<path d="M79.8,435.6 L43.93,407.77 A45.4,45.4 0 0 1 55.88,397.01 Z" fill="#fddcdc" stroke="#fddcdc" stroke-width="0.3" stroke-linejoin="round"/>
<path d="M79.8,435.6 L55.88,397.01 A45.4,45.4 0 0 1 66.30,392.25 Z" fill="#c8dcf8" stroke="#c8dcf8" stroke-width="0.3" stroke-linejoin="round"/>
<path d="M79.8,435.6 L66.30,392.25 A45.4,45.4 0 0 1 72.07,390.86 Z" fill="#86b4f4" stroke="#86b4f4" stroke-width="0.3" stroke-linejoin="round"/>
<path d="M79.8,435.6 L72.07,390.86 A45.4,45.4 0 0 1 74.42,390.52 Z" fill="#4c94f6" stroke="#4c94f6" stroke-width="0.3" stroke-linejoin="round"/>
<path d="M79.8,435.6 L74.42,390.52 A45.4,45.4 0 0 1 76.79,390.30 Z" fill="#2080ff" stroke="#2080ff" stroke-width="0.3" stroke-linejoin="round"/>
<path d="M79.8,435.6 L76.79,390.30 A45.4,45.4 0 0 1 79.56,390.20 Z" fill="#0000f0" stroke="#0000f0" stroke-width="0.3" stroke-linejoin="round"/>
<path d="M79.8,435.6 L79.56,390.20 A45.4,45.4 0 0 1 79.80,390.20 Z" fill="#0000b0" stroke="#0000b0" stroke-width="0.3" stroke-linejoin="round"/>
<path d="M196.1,435.6 L196.10,390.20 A45.4,45.4 0 0 1 237.73,453.70 Z" fill="#9c0008" stroke="#9c0008" stroke-width="0.3" stroke-linejoin="round"/>
<path d="M196.1,435.6 L237.73,453.70 A45.4,45.4 0 0 1 191.35,480.75 Z" fill="#ff0008" stroke="#ff0008" stroke-width="0.3" stroke-linejoin="round"/>
<path d="M196.1,435.6 L191.35,480.75 A45.4,45.4 0 0 1 153.38,450.98 Z" fill="#f84444" stroke="#f84444" stroke-width="0.3" stroke-linejoin="round"/>
<path d="M196.1,435.6 L153.38,450.98 A45.4,45.4 0 0 1 151.69,426.16 Z" fill="#fa8686" stroke="#fa8686" stroke-width="0.3" stroke-linejoin="round"/>
<path d="M196.1,435.6 L151.69,426.16 A45.4,45.4 0 0 1 158.02,410.87 Z" fill="#faa8a8" stroke="#faa8a8" stroke-width="0.3" stroke-linejoin="round"/>
<path d="M196.1,435.6 L158.02,410.87 A45.4,45.4 0 0 1 169.48,398.82 Z" fill="#fddcdc" stroke="#fddcdc" stroke-width="0.3" stroke-linejoin="round"/>
<path d="M196.1,435.6 L169.48,398.82 A45.4,45.4 0 0 1 180.35,393.02 Z" fill="#c8dcf8" stroke="#c8dcf8" stroke-width="0.3" stroke-linejoin="round"/>
<path d="M196.1,435.6 L180.35,393.02 A45.4,45.4 0 0 1 187.20,391.08 Z" fill="#86b4f4" stroke="#86b4f4" stroke-width="0.3" stroke-linejoin="round"/>
<path d="M196.1,435.6 L187.20,391.08 A45.4,45.4 0 0 1 189.98,390.61 Z" fill="#4c94f6" stroke="#4c94f6" stroke-width="0.3" stroke-linejoin="round"/>
<path d="M196.1,435.6 L189.98,390.61 A45.4,45.4 0 0 1 191.87,390.40 Z" fill="#2080ff" stroke="#2080ff" stroke-width="0.3" stroke-linejoin="round"/>
<path d="M196.1,435.6 L191.87,390.40 A45.4,45.4 0 0 1 195.70,390.20 Z" fill="#0000f0" stroke="#0000f0" stroke-width="0.3" stroke-linejoin="round"/>
<path d="M196.1,435.6 L195.70,390.20 A45.4,45.4 0 0 1 196.10,390.20 Z" fill="#0000b0" stroke="#0000b0" stroke-width="0.3" stroke-linejoin="round"/>
<text x="136.4" y="494.6" font-size="8.2" font-weight="bold" text-anchor="middle" fill="#111" stroke="#111" stroke-width="0.199" >distribution of DMSs in distinct genomic regions</text>
<rect x="39.8" y="504.90000000000003" width="10.5" height="4.8" fill="#9c0008"/>
<text x="52.3" y="509.8" font-size="7.22" font-weight="normal" text-anchor="start" fill="#2a2a2a" stroke="#2a2a2a" stroke-width="0.062" >heterochrom/lo</text>
<rect x="39.8" y="512.6700000000001" width="10.5" height="4.8" fill="#ff0008"/>
<text x="52.3" y="517.57" font-size="7.22" font-weight="normal" text-anchor="start" fill="#2a2a2a" stroke="#2a2a2a" stroke-width="0.062" >active promoter</text>
<rect x="39.8" y="520.44" width="10.5" height="4.8" fill="#f84444"/>
<text x="52.3" y="525.34" font-size="7.22" font-weight="normal" text-anchor="start" fill="#2a2a2a" stroke="#2a2a2a" stroke-width="0.062" >weak promoter</text>
<rect x="39.8" y="528.21" width="10.5" height="4.8" fill="#fa8686"/>
<text x="52.3" y="533.11" font-size="7.22" font-weight="normal" text-anchor="start" fill="#2a2a2a" stroke="#2a2a2a" stroke-width="0.062" >repressed</text>
<rect x="110.9" y="504.90000000000003" width="10.5" height="4.8" fill="#faa8a8"/>
<text x="123.4" y="509.8" font-size="7.22" font-weight="normal" text-anchor="start" fill="#2a2a2a" stroke="#2a2a2a" stroke-width="0.062" >weak txn</text>
<rect x="110.9" y="512.6700000000001" width="10.5" height="4.8" fill="#fddcdc"/>
<text x="123.4" y="517.57" font-size="7.22" font-weight="normal" text-anchor="start" fill="#2a2a2a" stroke="#2a2a2a" stroke-width="0.062" >poised promoter</text>
<rect x="110.9" y="520.44" width="10.5" height="4.8" fill="#c8dcf8"/>
<text x="123.4" y="525.34" font-size="7.22" font-weight="normal" text-anchor="start" fill="#2a2a2a" stroke="#2a2a2a" stroke-width="0.062" >weak enhancer</text>
<rect x="110.9" y="528.21" width="10.5" height="4.8" fill="#86b4f4"/>
<text x="123.4" y="533.11" font-size="7.22" font-weight="normal" text-anchor="start" fill="#2a2a2a" stroke="#2a2a2a" stroke-width="0.062" >strong enhancer</text>
<rect x="183" y="504.90000000000003" width="10.5" height="4.8" fill="#4c94f6"/>
<text x="195.5" y="509.8" font-size="7.22" font-weight="normal" text-anchor="start" fill="#2a2a2a" stroke="#2a2a2a" stroke-width="0.062" >repetitive/CNV</text>
<rect x="183" y="512.6700000000001" width="10.5" height="4.8" fill="#2080ff"/>
<text x="195.5" y="517.57" font-size="7.22" font-weight="normal" text-anchor="start" fill="#2a2a2a" stroke="#2a2a2a" stroke-width="0.062" >txn elongation</text>
<rect x="183" y="520.44" width="10.5" height="4.8" fill="#0000f0"/>
<text x="195.5" y="525.34" font-size="7.22" font-weight="normal" text-anchor="start" fill="#2a2a2a" stroke="#2a2a2a" stroke-width="0.062" >insulator</text>
<rect x="183" y="528.21" width="10.5" height="4.8" fill="#0000b0"/>
<text x="195.5" y="533.11" font-size="7.22" font-weight="normal" text-anchor="start" fill="#2a2a2a" stroke="#2a2a2a" stroke-width="0.062" >txn transition</text>
</svg>
</body></html>
